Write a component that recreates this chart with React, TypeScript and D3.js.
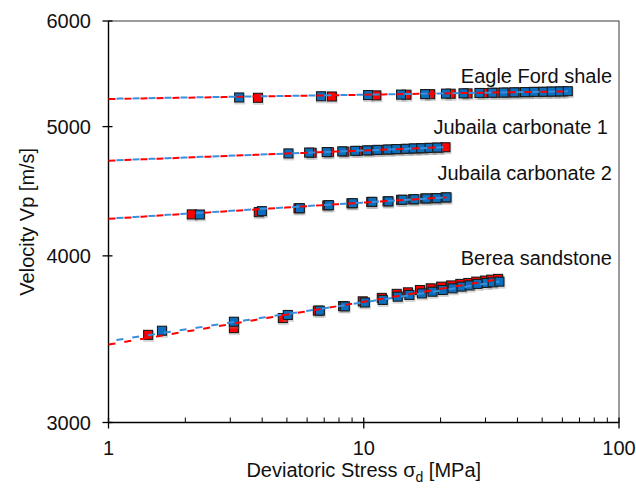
import React from "react";
import * as d3 from "d3";

// ---- data (σd in MPa, Vp in m/s) ----
const efBlueX = [3.25, 6.8, 10.4, 14.0, 17.4, 21.0, 24.6, 28.4, 31.9, 35.3, 38.9, 42.8, 46.5, 50.6, 54.5, 58.8, 63.0];
const efBlueY = [5258, 5269, 5280, 5284, 5289, 5293, 5296, 5299, 5301, 5303, 5305, 5307, 5309, 5310, 5312, 5313, 5315];
const efRedX = [3.85, 7.5, 11.2, 14.7, 18.2, 21.9, 25.5, 29.3, 32.8, 36.3, 40.0, 44.0, 47.8, 52.0, 56.0, 60.3];
const efRedY = [5255, 5267, 5277, 5283, 5288, 5292, 5295, 5298, 5300, 5302, 5304, 5306, 5308, 5309, 5311, 5313];

const j1BlueX = [5.07, 6.11, 7.16, 8.24, 9.26, 10.3, 11.3, 12.4, 13.4, 14.6, 15.7, 16.8, 18.1, 19.4];
const j1BlueY = [4774, 4781, 4785, 4791, 4795, 4799, 4803, 4806, 4810, 4812, 4815, 4817, 4820, 4822];
const j1RedX = [6.25, 7.3, 8.4, 9.45, 10.5, 11.5, 12.6, 13.7, 14.9, 16.0, 17.1, 18.4, 19.7, 20.9];
const j1RedY = [4779, 4784, 4789, 4794, 4798, 4802, 4805, 4808, 4811, 4814, 4816, 4819, 4821, 4825];

const j2BlueX = [2.28, 3.99, 5.62, 7.3, 9.06, 10.8, 12.5, 14.2, 15.8, 17.6, 19.3, 21.1];
const j2BlueY = [4296, 4321, 4343, 4366, 4381, 4391, 4395, 4407, 4411, 4417, 4419, 4425];
const j2RedX = [2.12, 3.88, 5.55, 7.2, 8.95, 10.7, 12.4, 14.0, 15.6, 17.4, 19.1, 20.9];
const j2RedY = [4297, 4314, 4342, 4364, 4380, 4390, 4395, 4406, 4410, 4416, 4419, 4424];

const brBlueX = [1.62, 3.1, 5.04, 6.73, 8.43, 10.1, 11.87, 13.59, 15.1, 16.9, 18.6, 20.4, 22.3, 24.2, 26.0, 27.9, 30.3, 32.0, 34.0];
const brBlueY = [3515, 3570, 3612, 3639, 3666, 3691, 3707, 3728, 3739, 3749, 3760, 3771, 3782, 3793, 3801, 3811, 3817, 3821, 3826];
const brRedX = [1.43, 3.1, 4.82, 6.61, 8.3, 9.91, 11.77, 13.46, 14.9, 16.6, 18.3, 20.1, 22.0, 23.9, 25.7, 27.6, 29.9, 31.6, 33.6];
const brRedY = [3490, 3531, 3593, 3639, 3668, 3698, 3720, 3746, 3756, 3771, 3782, 3793, 3801, 3811, 3817, 3826, 3833, 3839, 3844];

// power-law trendlines V = a * σ^b, drawn from σ=1 to σmax
const seriesNames = ["Eagle Ford shale", "Jubaila carbonate 1", "Jubaila carbonate 2", "Berea sandstone"];
const blueFitA = [5246, 4716, 4266, 3452];
const blueFitB = [0.0031, 0.0075, 0.012, 0.0292];
const redFitA = [5244, 4714, 4264, 3432];
const redFitB = [0.0032, 0.0077, 0.0122, 0.0321];
const fitMaxX = [63, 20.9, 21.1, 34];
const labelY = [5390, 4940, 4560, 3940];

const xTicks = [1, 10, 100];
const yTicks = [3000, 4000, 5000, 6000];

const RED = "#FF0000";
const BLUE_FILL = "#0A6FBF";
const BLUE_LINE = "#3A8FDC";

export default function App() {
  const W = 636, H = 490;
  const L = 108.5, R = 619, T = 21, B = 422.5;
  const x = d3.scaleLog().domain([1, 100]).range([L, R]);
  const y = d3.scaleLog().domain([3000, 6000]).range([B, T]);

  const redSets = [
    [efRedX, efRedY], [j1RedX, j1RedY], [j2RedX, j2RedY], [brRedX, brRedY],
  ];
  const blueSets = [
    [efBlueX, efBlueY], [j1BlueX, j1BlueY], [j2BlueX, j2BlueY], [brBlueX, brBlueY],
  ];

  const line = d3.line<number>().x((d) => x(d[0])).y((d) => y(d[1]));
  const fitPath = (a: number, b: number, xmax: number) => {
    const pts = d3.range(0, 41).map((i) => {
      const s = Math.pow(xmax, i / 40);
      return [s, a * Math.pow(s, b)];
    });
    return line(pts as any) || "";
  };

  const minor: number[] = [];
  for (const dec of [1, 10]) for (let k = 2; k <= 9; k++) minor.push(dec * k);

  const marker = (xs: number[], ys: number[], fill: string, key: string) =>
    xs.map((v, i) => {
      const cx = x(v), cy = y(ys[i]);
      const s = 9;
      return (
        <g key={key + i}>
          <rect x={cx - s / 2 - 0.5} y={cy - s / 2 + 0.5} width={s + 2} height={s + 2} fill="#888" opacity={0.35} />
          <rect x={cx - s / 2} y={cy - s / 2} width={s} height={s} fill={fill} stroke="#1a1a1a" strokeWidth={1.1} />
        </g>
      );
    });

  const font = "'Liberation Sans', Arial, sans-serif";

  return (
    <svg width={W} height={H} style={{ position: "absolute", left: 0, top: 0, background: "#fff" }} fontFamily={font}>
      {/* plot frame */}
      <rect x={L} y={T} width={R - L} height={B - T} fill="none" stroke="#3a3a3a" strokeWidth={1} />
      <line x1={L} y1={T} x2={L} y2={B} stroke="#000" strokeWidth={1.4} />
      <line x1={L} y1={B} x2={R} y2={B} stroke="#000" strokeWidth={1.4} />

      {/* y ticks */}
      {yTicks.map((t) => (
        <g key={"yt" + t}>
          <line x1={L - 6} x2={L + 4} y1={y(t)} y2={y(t)} stroke="#000" strokeWidth={1.3} />
          <text x={91} y={y(t)} dy="0.35em" textAnchor="end" fontSize={20} fill="#111">{t}</text>
        </g>
      ))}
      {/* x ticks */}
      {xTicks.map((t) => (
        <g key={"xt" + t}>
          <line x1={x(t)} x2={x(t)} y1={B - 5} y2={B + 6} stroke="#000" strokeWidth={1.3} />
          <text x={x(t)} y={B + 32} textAnchor="middle" fontSize={20} fill="#111">{t}</text>
        </g>
      ))}
      {minor.map((t) => (
        <line key={"mt" + t} x1={x(t)} x2={x(t)} y1={B - 5} y2={B} stroke="#000" strokeWidth={1} />
      ))}

      {/* markers: red series then blue series */}
      {redSets.map((s, i) => marker(s[0], s[1], RED, "r" + i))}
      {blueSets.map((s, i) => marker(s[0], s[1], BLUE_FILL, "b" + i))}

      {/* trendlines */}
      {seriesNames.map((n, i) => (
        <g key={"fit" + i}>
          <path d={fitPath(redFitA[i], redFitB[i], fitMaxX[i])} fill="none" stroke={RED} strokeWidth={2} strokeDasharray="7 9" />
          <path d={fitPath(blueFitA[i], blueFitB[i], fitMaxX[i])} fill="none" stroke={BLUE_LINE} strokeWidth={2} strokeDasharray="7 9" strokeDashoffset={8} />
        </g>
      ))}

      {/* series labels */}
      {seriesNames.map((n, i) => (
        <text key={"lb" + i} x={i === 1 ? 608 : 612} y={y(labelY[i])} textAnchor="end" fontSize={20} fill="#111">{n}</text>
      ))}

      {/* axis titles */}
      <text x={(L + R) / 2} y={477} textAnchor="middle" fontSize={20} fill="#111">
        Deviatoric Stress σ<tspan fontSize={14} dy={5}>d</tspan><tspan dy={-5}> [MPa]</tspan>
      </text>
      <text transform={`translate(34, ${(T + B) / 2}) rotate(-90)`} textAnchor="middle" fontSize={20} fill="#111">
        Velocity Vp [m/s]
      </text>
    </svg>
  );
}
